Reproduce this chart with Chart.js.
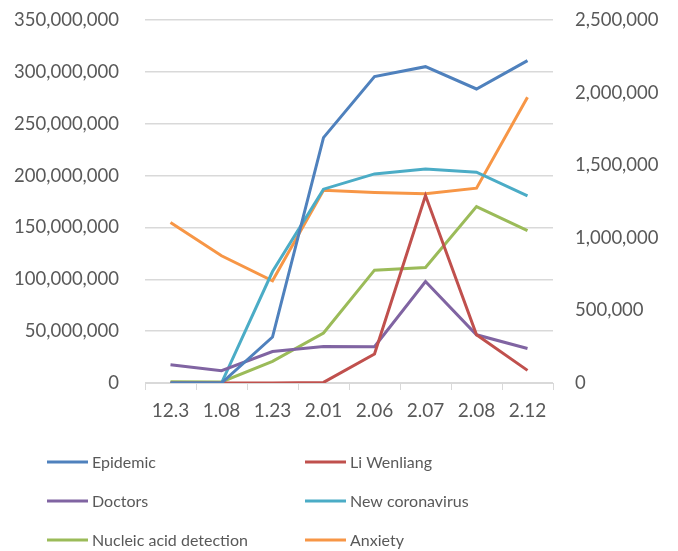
<!DOCTYPE html>
<html>
<head>
<meta charset="utf-8">
<script src="https://cdn.jsdelivr.net/npm/chart.js@4/dist/chart.umd.min.js"></script>
<style>
  html, body { margin: 0; padding: 0; background: #fff; }
  #wrap { width: 678px; height: 551px; position: relative; }
</style>
</head>
<body>
<div id="wrap"><canvas id="c" width="678" height="551"></canvas></div>
<script>
// Search volume by date
const categories = ['12.3', '1.08', '1.23', '2.01', '2.06', '2.07', '2.08', '2.12'];

// Left axis series
const epidemic       = [0, 0, 44300000, 236600000, 295400000, 305000000, 283500000, 310800000];
const newCoronavirus = [0, 0, 107500000, 186900000, 201600000, 206400000, 203300000, 180400000];

// Right axis series
const liWenliang  = [0, 0, 0, 4000, 199600, 1291000, 332000, 87000];
const doctors     = [126000, 85000, 217000, 252000, 250000, 699000, 332000, 238000];
const nucleicAcid = [9000, 7000, 149000, 344000, 777000, 796000, 1215000, 1050000];
const anxiety     = [1105000, 876000, 704000, 1328000, 1312000, 1303000, 1342000, 1968000];

const leftTicks  = [0, 50000000, 100000000, 150000000, 200000000, 250000000, 300000000, 350000000];
const rightTicks = [0, 500000, 1000000, 1500000, 2000000, 2500000];

const FONT = 'Lato';
const TEXT = '#595959';
const GRID = '#d9d9d9';

function ds(label, data, color, axis) {
  return {
    label, data, borderColor: color, backgroundColor: color,
    borderWidth: 3, pointRadius: 0, pointHoverRadius: 0,
    tension: 0, fill: false, yAxisID: axis
  };
}

const fmt = v => v.toLocaleString('en-US');

// Keep the plot edges fixed regardless of label overhang
function fixVertical(width) {
  return s => { s.width = width; s.paddingTop = 0; s.paddingBottom = 0; };
}

// Two-column legend drawn below the plot
const legendPlugin = {
  id: 'twoColLegend',
  afterDraw(chart) {
    const ctx = chart.ctx;
    const cols = [47, 305];
    const rows = [462, 501, 540];
    ctx.save();
    ctx.font = '16px ' + FONT;
    ctx.textBaseline = 'middle';
    ctx.textAlign = 'left';
    chart.data.datasets.forEach((d, i) => {
      const x = cols[i % 2], y = rows[Math.floor(i / 2)];
      ctx.strokeStyle = d.borderColor;
      ctx.lineWidth = 3;
      ctx.beginPath();
      ctx.moveTo(x, y);
      ctx.lineTo(x + 41, y);
      ctx.stroke();
      ctx.fillStyle = TEXT;
      ctx.fillText(d.label, x + 45, y + 1);
    });
    ctx.restore();
  }
};

new Chart(document.getElementById('c'), {
  type: 'line',
  data: {
    labels: categories,
    datasets: [
      ds('Epidemic', epidemic, '#4F81BD', 'yL'),
      ds('Li Wenliang', liWenliang, '#C0504D', 'yR'),
      ds('Doctors', doctors, '#8064A2', 'yR'),
      ds('New coronavirus', newCoronavirus, '#4BACC6', 'yL'),
      ds('Nucleic acid detection', nucleicAcid, '#9BBB59', 'yR'),
      ds('Anxiety', anxiety, '#F79646', 'yR')
    ]
  },
  options: {
    responsive: false,
    animation: false,
    events: [],
    layout: { padding: { top: 20, left: 0, right: 0, bottom: 0 } },
    plugins: { legend: { display: false }, tooltip: { enabled: false } },
    scales: {
      x: {
        offset: true,
        grid: { offset: true, drawOnChartArea: false, drawTicks: true, tickLength: 7, color: GRID, lineWidth: 1 },
        border: { color: GRID, width: 1 },
        ticks: { color: TEXT, font: { family: FONT, size: 19 }, padding: 9, maxRotation: 0 },
        afterFit(s) { s.height = 551 - 383; }
      },
      yL: {
        position: 'left',
        min: 0, max: 350000000,
        afterBuildTicks(s) { s.ticks = leftTicks.map(v => ({ value: v })); },
        grid: { color: GRID, lineWidth: 1.5, drawTicks: false },
        border: { display: false },
        ticks: { color: TEXT, font: { family: FONT, size: 18.5 }, padding: 26, callback: fmt },
        afterFit: fixVertical(145)
      },
      yR: {
        position: 'right',
        min: 0, max: 2500000,
        afterBuildTicks(s) { s.ticks = rightTicks.map(v => ({ value: v })); },
        grid: { display: false, drawOnChartArea: false, drawTicks: false },
        border: { display: false },
        ticks: { color: TEXT, font: { family: FONT, size: 18.5 }, padding: 22, callback: fmt },
        afterFit: fixVertical(678 - 553)
      }
    }
  },
  plugins: [legendPlugin]
});
</script>
</body>
</html>
